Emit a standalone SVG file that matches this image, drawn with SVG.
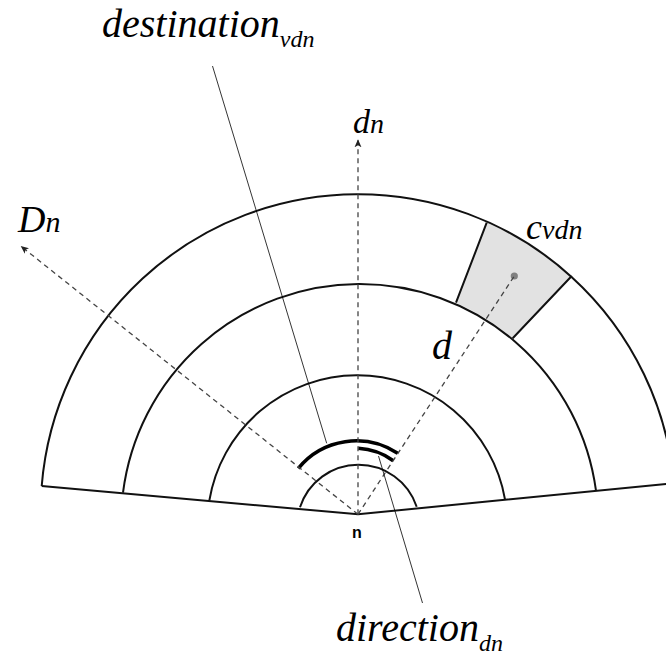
<svg xmlns="http://www.w3.org/2000/svg" width="666" height="654" viewBox="0 0 666 654">
<style>
.ring{fill:none;stroke:#111;stroke-width:2}
.thick{fill:none;stroke:#000;stroke-width:3.6}
.thin{fill:none;stroke:#000;stroke-width:0.8}
.dash{fill:none;stroke:#444;stroke-width:1.3;stroke-dasharray:5 4}
.lbl{font-family:"Liberation Serif","Times New Roman",serif;font-style:italic;fill:#000}
</style>
<defs>
<marker id="arr" markerWidth="10" markerHeight="8" refX="8" refY="4" orient="auto" markerUnits="userSpaceOnUse">
<path d="M0,0.5 L8,4 L0,7.5 L2,4 z" fill="#222"/>
</marker>
</defs>
<rect width="666" height="654" fill="#fff"/>
<g id="cell">
<path d="M486.7 222.7 A317.3 317.3 0 0 1 571.7 276 L512.7 338.3 A238.5 238.5 0 0 0 456 302.7 Z" fill="#e2e2e2" stroke="none"/>
<path d="M486.7 222.7 L456 302.7 M571.7 276 L512.7 338.3" class="ring" stroke-width="1.6"/>
<circle cx="514.3" cy="276" r="3.6" fill="#808080"/>
</g>
<g id="fan">
<path d="M41.7 486 L358 514.3 L680 482.5" class="ring"/>
<path d="M41.7 486 A317.3 317.3 0 0 1 674 483.2" class="ring"/>
<path d="M123 492.7 A238.5 238.5 0 0 1 596 490.7" class="ring"/>
<path d="M209.3 500.7 A150 150 0 0 1 505 499.3" class="ring"/>
<path d="M300 507.3 A61.4 61.4 0 0 1 416.7 506.7" class="ring"/>
</g>
<g id="angles">
<path d="M298.3 468.3 A75 75 0 0 1 397.7 453.3" class="thick"/>
<path d="M358.3 448.3 A66 66 0 0 1 393.3 460.7" class="thick"/>
</g>
<g id="connectors">
<path d="M358 514.3 L358 139.3" class="dash" marker-end="url(#arr)"/>
<path d="M358 514.3 L20.7 246" class="dash" marker-end="url(#arr)"/>
<path d="M358 514.3 L514.3 276" class="dash" stroke="#666"/>
<path d="M212.5 66 L326.7 443.3" class="thin"/>
<path d="M378.5 456 L422.5 603" class="thin"/>
</g>
<g id="labels">
<text class="lbl" x="102" y="37" font-size="40">destination<tspan font-size="24" dy="10">vdn</tspan></text>
<text class="lbl" x="336" y="641" font-size="40">direction<tspan font-size="24" dy="10">dn</tspan></text>
<text class="lbl" x="18" y="232" font-size="38">D<tspan font-size="30">n</tspan></text>
<text class="lbl" x="353" y="133" font-size="34">d<tspan font-size="28">n</tspan></text>
<text class="lbl" x="526" y="239" font-size="36">c<tspan font-size="28">vdn</tspan></text>
<text class="lbl" x="432" y="359" font-size="40">d</text>
<text x="357" y="538" font-size="16" font-weight="bold" text-anchor="middle" font-family="Liberation Sans, Arial, sans-serif">n</text>
</g>
</svg>
